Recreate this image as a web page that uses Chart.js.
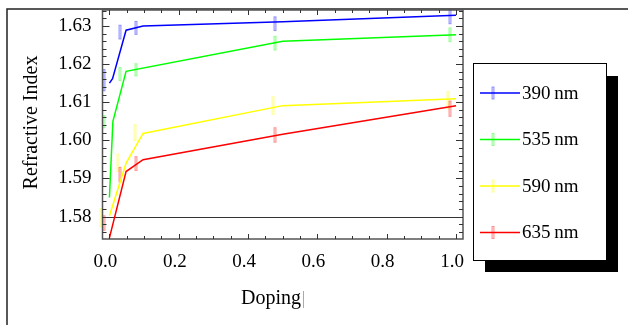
<!DOCTYPE html>
<html>
<head>
<meta charset="utf-8">
<script src="https://cdn.jsdelivr.net/npm/chart.js@4"></script>
<style>
  html, body { margin: 0; padding: 0; background: #fff; }
  #wrap { width: 628px; height: 325px; }
</style>
</head>
<body>
<div id="wrap"><canvas id="chartCanvas" width="628" height="325"></canvas></div>
<script>
// series (wavelengths)
const seriesLabels = ['390\u2009nm', '535\u2009nm', '590\u2009nm', '635\u2009nm'];
const seriesColors = ['#0000ff', '#00ff00', '#ffff00', '#ff0000'];

// fitted lines: doping -> refractive index
const dopingBlue = [0, 0.009, 0.048, 0.097, 0.5, 1.0];
const index390 = [1.615, 1.6162, 1.6289, 1.630, 1.6311, 1.6328];
const dopingGreen = [0, 0.01, 0.048, 0.5, 1.0];
const index535 = [1.585, 1.605, 1.6181, 1.626, 1.6277];
const dopingYellow = [0, 0.048, 0.097, 0.5, 1.0];
const index590 = [1.5802, 1.594, 1.6018, 1.6091, 1.6109];
const dopingRed = [0, 0.048, 0.097, 0.5, 1.0];
const index635 = [1.5744, 1.5918, 1.5949, 1.6016, 1.6091];

// measured points with error bars
const errDoping = [-0.017, 0.03, 0.078, 0.479, 0.983];
const errDopingYellow = [-0.024, 0.024, 0.074, 0.473, 0.978];
const meas390 = [1.6158, 1.6284, 1.6295, 1.6306, 1.6324];
const err390 = [0.0028, 0.0018, 0.0017, 0.0018, 0.0018];
const meas535 = [1.6049, 1.6174, 1.6185, 1.6255, 1.6277];
const err535 = [0.0016, 0.0017, 0.0016, 0.0018, 0.0018];
const meas590 = [1.5797, 1.5941, 1.602, 1.6091, 1.6105];
const err590 = [0.0024, 0.0023, 0.0021, 0.0023, 0.0023];
const meas635 = [1.5783, 1.591, 1.5939, 1.6014, 1.6083];
const err635 = [0.0019, 0.0019, 0.0018, 0.0019, 0.002];

// axes
const xTicks = [0, 0.2, 0.4, 0.6, 0.8, 1.0];
const yTicks = [1.58, 1.59, 1.60, 1.61, 1.62, 1.63];
const xTitle = 'Doping';
const yTitle = 'Refractive Index';

const lines = [
  [dopingBlue, index390],
  [dopingGreen, index535],
  [dopingYellow, index590],
  [dopingRed, index635]
];
const errSets = [
  [errDoping, meas390, err390],
  [errDoping, meas535, err535],
  [errDopingYellow, meas590, err590],
  [errDoping, meas635, err635]
];

const serif = '"Liberation Serif", "DejaVu Serif", serif';

function withAlpha(hex, a) {
  const n = parseInt(hex.slice(1), 16);
  return 'rgba(' + (n >> 16) + ',' + ((n >> 8) & 255) + ',' + (n & 255) + ',' + a + ')';
}

function errGlyph(ctx, px, top, bot, color) {
  px = Math.round(px);
  ctx.fillStyle = withAlpha(color, 0.12);
  ctx.strokeStyle = withAlpha(color, 0.4);
  ctx.lineWidth = 1;
  ctx.fillRect(px - 1, top, 2, bot - top);
  ctx.strokeRect(px - 1, top, 2, bot - top);
}

const framePlugin = {
  id: 'frame',
  beforeDatasetsDraw(chart) {
    const { ctx, scales: { x, y } } = chart;
    ctx.save();
    errSets.forEach((set, k) => {
      const [xs, ys, es] = set;
      xs.forEach((v, i) => {
        const px = x.getPixelForValue(v);
        const top = y.getPixelForValue(ys[i] + es[i]);
        const bot = y.getPixelForValue(ys[i] - es[i]);
        errGlyph(ctx, px, top, bot, seriesColors[k]);
      });
    });
    // baseline at 1.58
    const yb = Math.round(y.getPixelForValue(1.58)) + 0.5;
    ctx.strokeStyle = '#333';
    ctx.lineWidth = 1.2;
    ctx.beginPath();
    ctx.moveTo(x.left, yb);
    ctx.lineTo(x.right, yb);
    ctx.stroke();
    ctx.restore();
  },
  afterDraw(chart) {
    const { ctx, chartArea: a, scales: { x, y } } = chart;
    ctx.save();
    // outer frame
    ctx.strokeStyle = '#222';
    ctx.lineWidth = 1.5;
    ctx.beginPath();
    ctx.moveTo(7, 325);
    ctx.lineTo(7, 9);
    ctx.lineTo(628, 9);
    ctx.stroke();

    // plot box
    ctx.strokeStyle = '#555';
    ctx.lineWidth = 1.5;
    ctx.strokeRect(a.left, a.top, a.right - a.left, a.bottom - a.top);

    // inward ticks
    ctx.strokeStyle = '#333';
    ctx.lineWidth = 1;
    ctx.beginPath();
    for (let k = 0; k <= 20; k++) {
      const v = k * 0.05;
      const px = Math.round(x.getPixelForValue(v)) + 0.5;
      const len = k % 4 === 0 ? 5 : 3;
      ctx.moveTo(px, a.bottom); ctx.lineTo(px, a.bottom - len);
      ctx.moveTo(px, a.top); ctx.lineTo(px, a.top + len);
    }
    for (let k = 0; k <= 29; k++) {
      const v = 1.576 + k * 0.002;
      if (v > y.max) break;
      const py = Math.round(y.getPixelForValue(v)) + 0.5;
      const len = (k - 2) % 5 === 0 ? 7 : 4;
      ctx.moveTo(a.left, py); ctx.lineTo(a.left + len, py);
      ctx.moveTo(a.right, py); ctx.lineTo(a.right - len, py);
    }
    ctx.stroke();

    // axis titles
    ctx.fillStyle = '#000';
    ctx.font = '20px ' + serif;
    ctx.textAlign = 'center';
    ctx.textBaseline = 'middle';
    ctx.fillText(xTitle, 271, 299);
    ctx.strokeStyle = '#aaa';
    ctx.beginPath();
    ctx.moveTo(303.5, 291); ctx.lineTo(303.5, 308);
    ctx.stroke();
    ctx.save();
    ctx.translate(32, (a.top + a.bottom) / 2 - 2);
    ctx.rotate(-Math.PI / 2);
    ctx.fillText(yTitle, 0, 0);
    ctx.restore();

    // legend with drop shadow
    ctx.fillStyle = '#000';
    ctx.fillRect(606, 76, 12, 196);
    ctx.fillRect(485, 260, 133, 12);
    ctx.fillStyle = '#fff';
    ctx.fillRect(473, 63, 133, 197);
    ctx.strokeStyle = '#000';
    ctx.lineWidth = 1;
    ctx.strokeRect(473.5, 63.5, 133, 197);
    ctx.font = '19px ' + serif;
    ctx.textAlign = 'left';
    seriesLabels.forEach((lab, i) => {
      const ly = 93 + i * 46.5;
      errGlyph(ctx, 493, ly - 6, ly + 6, seriesColors[i]);
      ctx.strokeStyle = seriesColors[i];
      ctx.lineWidth = 1.5;
      ctx.beginPath();
      ctx.moveTo(480, ly); ctx.lineTo(520, ly);
      ctx.stroke();
      ctx.fillStyle = '#000';
      ctx.fillText(lab, 522, ly + 1);
    });
    ctx.restore();
  }
};

const ctx = document.getElementById('chartCanvas').getContext('2d');
new Chart(ctx, {
  type: 'line',
  data: {
    datasets: lines.map((l, i) => ({
      label: seriesLabels[i],
      data: l[0].map((v, j) => ({ x: v, y: l[1][j] })),
      borderColor: seriesColors[i],
      borderWidth: 1.5,
      pointRadius: 0,
      tension: 0,
      fill: false
    }))
  },
  options: {
    responsive: false,
    animation: false,
    devicePixelRatio: 1,
    layout: { padding: { top: 10, right: 165, bottom: 0, left: 0 } },
    plugins: { legend: { display: false }, tooltip: { enabled: false } },
    scales: {
      x: {
        type: 'linear',
        min: -0.02,
        max: 1.02,
        afterBuildTicks: s => { s.ticks = xTicks.map(v => ({ value: v })); },
        afterFit: s => { s.height = 86; s.paddingLeft = 0; s.paddingRight = 0; },
        grid: { display: false, drawTicks: false },
        border: { display: false },
        ticks: {
          color: '#000',
          font: { family: serif, size: 19 },
          padding: 12,
          labelOffset: -4,
          maxRotation: 0,
          callback: v => v.toFixed(1)
        }
      },
      y: {
        type: 'linear',
        min: 1.5741,
        max: 1.6342,
        afterBuildTicks: s => { s.ticks = yTicks.map(v => ({ value: v })); },
        afterFit: s => { s.width = 102.5; s.paddingTop = 0; s.paddingBottom = 0; },
        grid: { display: false, drawTicks: false },
        border: { display: false },
        ticks: {
          color: '#000',
          font: { family: serif, size: 19 },
          padding: 11,
          callback: v => v.toFixed(2)
        }
      }
    }
  },
  plugins: [framePlugin]
});
</script>
</body>
</html>
